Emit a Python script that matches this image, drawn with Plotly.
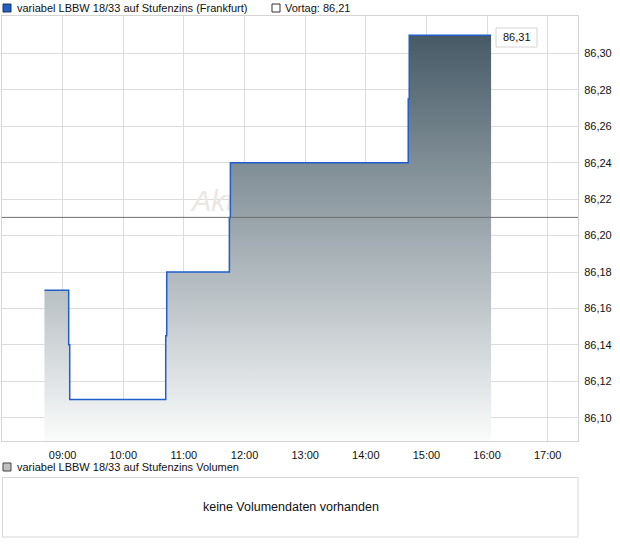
import plotly.graph_objects as go

# ---- data ----
day = "2024-01-02"
times = ["08:42", "09:06", "09:07", "10:42", "10:43", "11:45", "11:46", "14:42", "14:43", "16:04"]
prices = [86.17, 86.14, 86.11, 86.145, 86.18, 86.21, 86.24, 86.275, 86.31, 86.31]
vortag = 86.21
last_label = "86,31"
x_ticks = ["09:00", "10:00", "11:00", "12:00", "13:00", "14:00", "15:00", "16:00", "17:00"]
y_ticks = [86.10, 86.12, 86.14, 86.16, 86.18, 86.20, 86.22, 86.24, 86.26, 86.28, 86.30]
series_name = "variabel LBBW 18/33 auf Stufenzins (Frankfurt)"
vortag_name = "Vortag: 86,21"
volume_name = "variabel LBBW 18/33 auf Stufenzins Volumen"
volume_msg = "keine Volumendaten vorhanden"

X_RANGE = [f"{day} 08:00", f"{day} 17:30"]
Y_RANGE = [86.0872, 86.3206]

W, H = 620, 546
L, R, T, B = 2, 578, 16, 441


def px(x):
    return (x - L) / (R - L)


def py(y):
    return (B - y) / (B - T)


FONT = "Liberation Sans, Arial, sans-serif"

xs = [f"{day} {t}" for t in times]

fig = go.Figure()

# watermark (drawn first so the area fill covers it)
fig.add_trace(go.Scatter(
    x=[f"{day} 11:08"], y=[86.2176], mode="text", text=["Aktien"],
    textposition="middle right",
    textfont=dict(family="Liberation Sans, Arial, sans-serif", size=29, color="#ebe7e3", style="italic"),
    hoverinfo="skip", showlegend=False,
))

fig.add_trace(go.Scatter(
    x=xs, y=prices, mode="lines", line=dict(shape="hv", color="#1f5ecb", width=1.5),
    fill="tozeroy",
    fillgradient=dict(type="vertical", start=Y_RANGE[0], stop=max(prices),
                      colorscale=[[0, "#fafbfb"], [1, "#465a66"]]),
    showlegend=False, hoverinfo="skip",
))

shapes = []
# Vortag line
shapes.append(dict(type="line", xref="paper", yref="y", x0=0, x1=1, y0=vortag, y1=vortag,
                   line=dict(color="#6e6e6e", width=1), layer="above"))
# last value box
shapes.append(dict(type="rect", xref="paper", yref="paper",
                   x0=px(496), x1=px(537), y0=py(47), y1=py(28),
                   fillcolor="white", line=dict(color="#d4d4d4", width=1), layer="above"))
# legend squares
shapes.append(dict(type="rect", xref="paper", yref="paper",
                   x0=px(3), x1=px(11), y0=py(12), y1=py(4),
                   fillcolor="#1f5ecb", line=dict(color="#223355", width=1)))
shapes.append(dict(type="rect", xref="paper", yref="paper",
                   x0=px(272), x1=px(280), y0=py(12), y1=py(4),
                   fillcolor="white", line=dict(color="#333333", width=1)))
shapes.append(dict(type="rect", xref="paper", yref="paper",
                   x0=px(3), x1=px(11), y0=py(471), y1=py(463),
                   fillcolor="#c0c0c0", line=dict(color="#444444", width=1)))
# volume box
shapes.append(dict(type="rect", xref="paper", yref="paper",
                   x0=px(2.5), x1=px(578), y0=py(537), y1=py(477.5),
                   fillcolor="white", line=dict(color="#d8d8d8", width=1)))

annotations = [
    dict(text=last_label, xref="paper", yref="paper", x=px(516.5), y=py(37.5),
         xanchor="center", yanchor="middle", showarrow=False,
         font=dict(family=FONT, size=11, color="#111111")),
    dict(text=series_name, xref="paper", yref="paper", x=px(15), y=py(8),
         xanchor="left", yanchor="middle", showarrow=False,
         font=dict(family=FONT, size=11, color="#111111")),
    dict(text=vortag_name, xref="paper", yref="paper", x=px(283), y=py(8),
         xanchor="left", yanchor="middle", showarrow=False,
         font=dict(family=FONT, size=11, color="#111111")),
    dict(text=volume_name, xref="paper", yref="paper", x=px(15), y=py(467),
         xanchor="left", yanchor="middle", showarrow=False,
         font=dict(family=FONT, size=11, color="#111111")),
    dict(text=volume_msg, xref="paper", yref="paper", x=px(290.5), y=py(507),
         xanchor="center", yanchor="middle", showarrow=False,
         font=dict(family=FONT, size=12.5, color="#111111")),
]

fig.update_layout(
    width=W, height=H,
    margin=dict(l=L, r=W - R, t=T, b=H - B, pad=0, autoexpand=False),
    paper_bgcolor="white", plot_bgcolor="white",
    separators=",.",
    font=dict(family=FONT, size=11, color="#111111"),
    shapes=shapes, annotations=annotations,
    showlegend=False,
    xaxis=dict(
        type="date", range=X_RANGE,
        tickmode="array", tickvals=[f"{day} {t}" for t in x_ticks], ticktext=x_ticks,
        showgrid=True, gridcolor="#dcdcdc", gridwidth=1,
        showline=True, linecolor="#d4d4d4", linewidth=1, mirror=True,
        ticks="", ticklabelstandoff=4, zeroline=False, automargin=False,
        tickfont=dict(family=FONT, size=11, color="#111111"),
    ),
    yaxis=dict(
        range=Y_RANGE, side="right",
        tickmode="array", tickvals=y_ticks, tickformat=".2f",
        showgrid=True, gridcolor="#dcdcdc", gridwidth=1,
        showline=True, linecolor="#d4d4d4", linewidth=1, mirror=True,
        ticks="", ticklabelstandoff=3, zeroline=False, automargin=False,
        tickfont=dict(family=FONT, size=11, color="#111111"),
    ),
)

fig.write_html("out.html", config={"displayModeBar": False},
               post_script="document.body.style.margin='0';document.body.style.overflow='hidden';")
